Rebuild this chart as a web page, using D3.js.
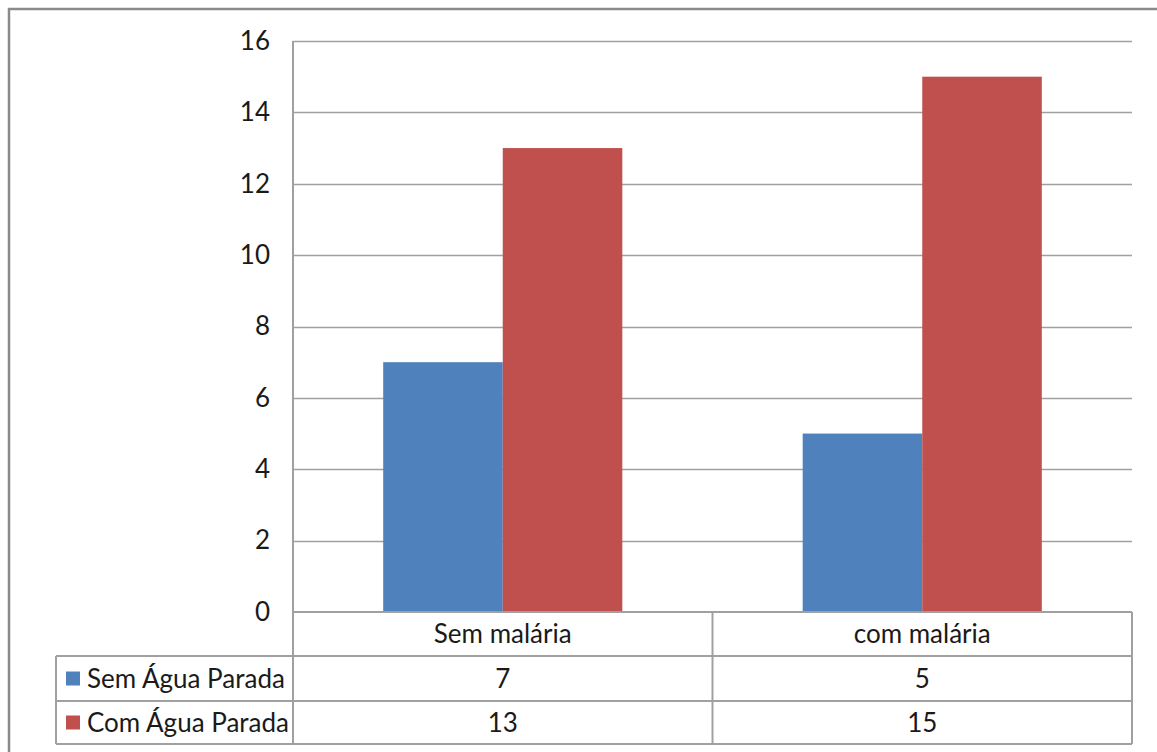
<!DOCTYPE html>
<html>
<head>
<meta charset="utf-8">
<script src="https://cdn.jsdelivr.net/npm/d3@7"></script>
<style>
  html, body { margin: 0; padding: 0; background: #fff; }
  svg { display: block; }
  text { font-family: Lato, "Liberation Sans", sans-serif; fill: #1a1a1a; }
</style>
</head>
<body>
<svg id="chart" width="1157" height="752"></svg>
<script>
// Categories, series and tick values
const categories = ["Sem malária", "com malária"];
const seriesNames = ["Sem Água Parada", "Com Água Parada"];
const semAguaParada = [7, 5];
const comAguaParada = [13, 15];
const yTicks = [0, 2, 4, 6, 8, 10, 12, 14, 16];
const seriesColors = ["#4F81BD", "#C0504D"];

const seriesValues = [semAguaParada, comAguaParada];

const svg = d3.select("#chart");
const W = 1157, H = 752;

// Layout of the plot area and data table
const plot = { left: 293, right: 1132, top: 41, bottom: 612 };
const tableLeft = 56;
const rowEdges = [612, 656, 701, 744];
const lineColor = "#a0a0a0";
const fontSize = 26;

// Outer chart frame (continues past the right and bottom edges)
svg.append("path")
  .attr("d", `M9,${H + 5} V9 H${W + 5}`)
  .attr("fill", "none")
  .attr("stroke", "#8a8a8a")
  .attr("stroke-width", 2.5);

const x = d3.scaleBand().domain(categories).range([plot.left, plot.right]).padding(0);
const y = d3.scaleLinear().domain([0, 16]).range([plot.bottom, plot.top]);

const groupW = x.bandwidth() * 0.57;
const xs = d3.scaleBand().domain(d3.range(seriesNames.length))
  .range([(x.bandwidth() - groupW) / 2, (x.bandwidth() + groupW) / 2]).padding(0);

// Horizontal gridlines
svg.append("g").selectAll("line").data(yTicks.filter(d => d > 0)).join("line")
  .attr("x1", plot.left).attr("x2", plot.right)
  .attr("y1", d => Math.round(y(d)) + 0.5).attr("y2", d => Math.round(y(d)) + 0.5)
  .attr("stroke", lineColor).attr("stroke-width", 1.3);

// Y axis tick labels
const yAxis = d3.axisLeft(y).tickValues(yTicks).tickSize(0).tickPadding(23);
const gy = svg.append("g").attr("transform", `translate(${plot.left},0)`).call(yAxis);
gy.select(".domain").remove();
gy.selectAll("text")
  .style("font-family", "Lato, 'Liberation Sans', sans-serif")
  .style("font-size", fontSize + "px").attr("fill", "#1a1a1a");

// Bars
const groups = svg.append("g").selectAll("g").data(categories).join("g")
  .attr("transform", d => `translate(${x(d)},0)`);
groups.selectAll("rect")
  .data((c, ci) => seriesValues.map((vals, si) => ({ si, v: vals[ci] })))
  .join("rect")
  .attr("x", d => xs(d.si))
  .attr("width", xs.bandwidth())
  .attr("y", d => y(d.v))
  .attr("height", d => y(0) - y(d.v))
  .attr("fill", d => seriesColors[d.si]);

// Data table lines
const t = svg.append("g").attr("stroke", lineColor).attr("stroke-width", 2).attr("fill", "none");
t.append("line").attr("x1", plot.left).attr("x2", plot.right).attr("y1", rowEdges[0]).attr("y2", rowEdges[0]);
rowEdges.slice(1).forEach(ry => {
  t.append("line").attr("x1", tableLeft).attr("x2", plot.right).attr("y1", ry).attr("y2", ry);
});
t.append("line").attr("x1", tableLeft).attr("x2", tableLeft).attr("y1", rowEdges[1]).attr("y2", rowEdges[3]);
t.append("line").attr("x1", plot.left).attr("x2", plot.left).attr("y1", plot.top).attr("y2", rowEdges[3]);
categories.forEach(c => {
  const xr = x(c) + x.bandwidth();
  t.append("line").attr("x1", xr).attr("x2", xr).attr("y1", rowEdges[0]).attr("y2", rowEdges[3]);
});

// Category header row
svg.append("g").selectAll("text").data(categories).join("text")
  .attr("x", d => x(d) + x.bandwidth() / 2)
  .attr("y", (rowEdges[0] + rowEdges[1]) / 2)
  .attr("dy", "0.35em")
  .attr("text-anchor", "middle")
  .style("font-size", fontSize + "px")
  .text(d => d);

// Value rows with legend keys
seriesNames.forEach((name, si) => {
  const cy = (rowEdges[si + 1] + rowEdges[si + 2]) / 2;
  svg.append("rect")
    .attr("x", 66).attr("y", cy - 7).attr("width", 14).attr("height", 14)
    .attr("fill", seriesColors[si]);
  svg.append("text")
    .attr("x", 87).attr("y", cy).attr("dy", "0.35em")
    .style("font-size", fontSize + "px")
    .text(name);
  svg.append("g").selectAll("text").data(categories).join("text")
    .attr("x", d => x(d) + x.bandwidth() / 2)
    .attr("y", cy).attr("dy", "0.35em")
    .attr("text-anchor", "middle")
    .style("font-size", fontSize + "px")
    .text((d, ci) => seriesValues[si][ci]);
});
</script>
</body>
</html>
